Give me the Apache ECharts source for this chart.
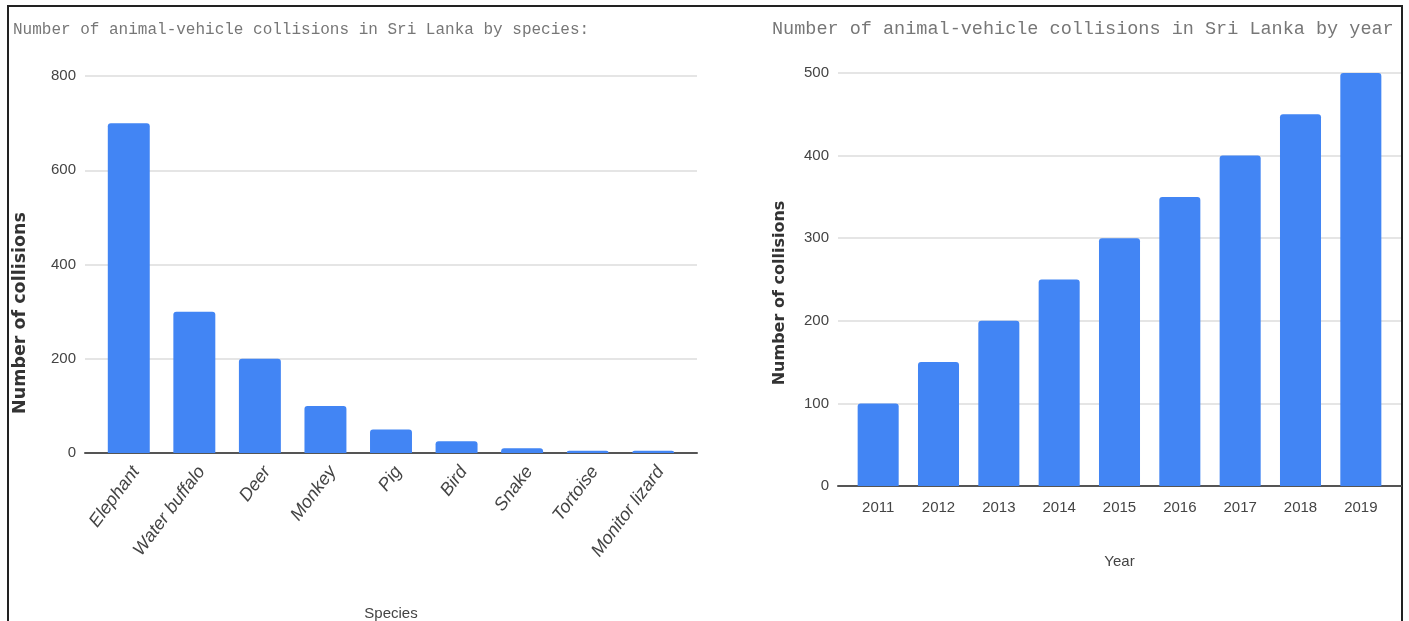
<!DOCTYPE html>
<html><head><meta charset="utf-8">
<script src="https://cdn.jsdelivr.net/npm/echarts@6/dist/echarts.min.js"></script>
<style>
html,body{margin:0;padding:0;background:#fff;}
#frame{position:absolute;left:7px;top:5px;width:1396px;height:640px;border:2px solid #222;box-sizing:border-box;}
#c{position:absolute;left:0;top:0;width:1409px;height:621px;}
</style></head>
<body><div id="frame"></div><div id="c"></div>
<script>
const species = ['Elephant','Water buffalo','Deer','Monkey','Pig','Bird','Snake','Tortoise','Monitor lizard'];
const speciesValues = [700,300,200,100,50,25,10,5,5];
const years = ['2011','2012','2013','2014','2015','2016','2017','2018','2019'];
const yearValues = [100,150,200,250,300,350,400,450,500];
const titleLeft = 'Number of animal-vehicle collisions in Sri Lanka by species:';
const titleRight = 'Number of animal-vehicle collisions in Sri Lanka by year';
const yName = 'Number of collisions';

const sans = '"Liberation Sans Narrow","Arial Narrow","Liberation Sans",Arial,sans-serif';
const blue = '#4285F4';
const chart = echarts.init(document.getElementById('c'), null, {renderer:'canvas'});

// frame grids (gridlines, baseline, y labels) and bar grids (bars, category labels)
const yFrame = (gi, max, iv) => ({
  type:'value', gridIndex:gi, min:0, max:max, interval:iv,
  axisLine:{show:false}, axisTick:{show:false},
  splitLine:{lineStyle:{color:'#dddddd', width:1.5}},
  axisLabel:{color:'#444', fontFamily:sans, fontSize:15, margin:9}
});
const yHidden = (gi, max, iv) => ({
  type:'value', gridIndex:gi, min:0, max:max, interval:iv,
  axisLine:{show:false}, axisTick:{show:false}, splitLine:{show:false}, axisLabel:{show:false}
});
const xFrame = (gi) => ({
  type:'value', gridIndex:gi, min:0, max:1,
  axisLine:{show:true, onZero:false, lineStyle:{color:'#555', width:2}},
  axisTick:{show:false}, axisLabel:{show:false}, splitLine:{show:false}
});

chart.setOption({
  animation:false,
  title:[
    {text:titleLeft, left:8, top:17, textStyle:{fontFamily:'"Liberation Mono","Courier New",monospace', fontWeight:'normal', fontSize:16, color:'#777'}},
    {text:titleRight, left:767, top:15, textStyle:{fontFamily:'"Liberation Mono","Courier New",monospace', fontWeight:'normal', fontSize:18.5, color:'#777'}}
  ],
  grid:[
    {left:85, width:612, top:76, height:377, outerBoundsMode:'none', containLabel:false},
    {left:96, width:590, top:76, height:377, outerBoundsMode:'none', containLabel:false},
    {left:838, width:563, top:73, height:413, outerBoundsMode:'none', containLabel:false},
    {left:848, width:543, top:73, height:413, outerBoundsMode:'none', containLabel:false}
  ],
  xAxis:[
    xFrame(0),
    {type:'category', gridIndex:1, data:species,
     axisLine:{show:false}, axisTick:{show:false},
     axisLabel:{rotate:53, interval:0, color:'#444', fontFamily:sans, fontStyle:'italic', fontSize:18, margin:10, verticalAlign:'top'},
     name:'Species', nameLocation:'middle', nameGap:153,
     nameTextStyle:{color:'#444', fontFamily:sans, fontSize:15}},
    xFrame(2),
    {type:'category', gridIndex:3, data:years,
     axisLine:{show:false}, axisTick:{show:false},
     axisLabel:{interval:0, color:'#444', fontFamily:sans, fontSize:15, margin:14},
     name:'Year', nameLocation:'middle', nameGap:68,
     nameTextStyle:{color:'#444', fontFamily:sans, fontSize:15}}
  ],
  yAxis:[
    yFrame(0, 800, 200), yHidden(1, 800, 200),
    yFrame(2, 500, 100), yHidden(3, 500, 100)
  ],
  graphic:[
    {type:'text', x:20, y:313, rotation:Math.PI/2,
     style:{text:yName, fill:'#333', font:'bold 17.5px "DejaVu Sans",sans-serif', align:'center', verticalAlign:'middle'}},
    {type:'text', x:780, y:293, rotation:Math.PI/2,
     style:{text:yName, fill:'#333', font:'bold 16px "DejaVu Sans",sans-serif', align:'center', verticalAlign:'middle'}}
  ],
  series:[
    {type:'bar', xAxisIndex:1, yAxisIndex:1, data:speciesValues, barWidth:'64%', z:3,
     itemStyle:{color:blue, borderRadius:[3,3,0,0]}},
    {type:'bar', xAxisIndex:3, yAxisIndex:3, data:yearValues, barWidth:'68%', z:3,
     itemStyle:{color:blue, borderRadius:[3,3,0,0]}}
  ]
});
</script></body></html>
